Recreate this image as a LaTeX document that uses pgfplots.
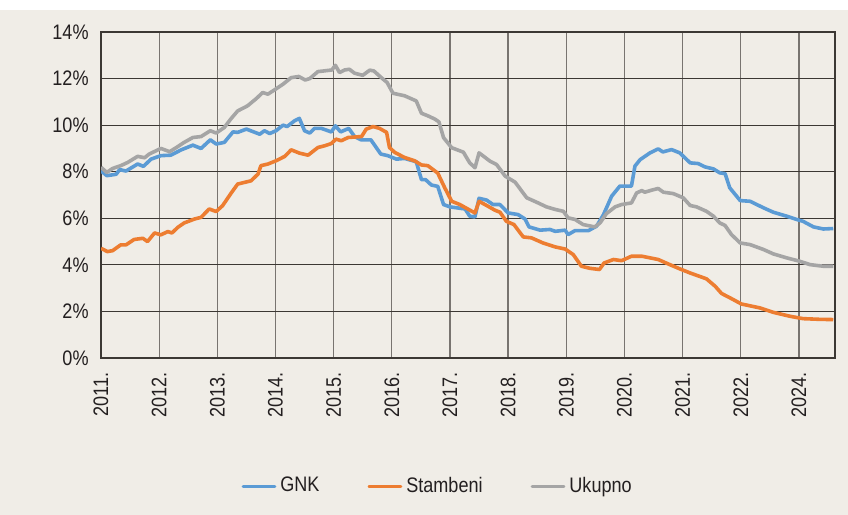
\documentclass[border=0pt]{standalone}
\usepackage{fontspec}
\setmainfont[FakeStretch=0.86]{Liberation Sans}
\usepackage{pgfplots}
\pgfplotsset{compat=1.18}
\definecolor{bg}{RGB}{240,237,231}
\definecolor{txt}{RGB}{35,31,32}
\definecolor{hgrid}{RGB}{60,56,52}
\definecolor{vgrid}{RGB}{120,116,112}
\definecolor{cblue}{RGB}{91,155,213}
\definecolor{corange}{RGB}{237,125,49}
\definecolor{cgray}{RGB}{165,165,165}
\begin{document}
\begin{tikzpicture}
\useasboundingbox (0,0) rectangle (424pt,257.5pt);
\fill[bg] (0,0) rectangle (424pt,252.5pt);
\fill[white] (0,252.5pt) rectangle (424pt,257.5pt);
\begin{axis}[
  scale only axis,
  width=367pt, height=163pt,
  at={(50.5pt,78.5pt)}, anchor=south west,
  xmin=0, xmax=12.62, ymin=0, ymax=14,
  xtick={0,...,12},
  xticklabels={2011.,2012.,2013.,2014.,2015.,2016.,2017.,2018.,2019.,2020.,2021.,2022.,2024.},
  ytick={0,2,...,14},
  yticklabel={\pgfmathprintnumber{\tick}\%},
  /pgf/number format/assume math mode=true,
  major tick length=0pt,
  tick label style={font=\fontsize{10.5}{12}\selectfont, text=txt},
  xticklabel shift=7pt,
  xticklabel style={rotate=90, anchor=east, inner sep=0pt},
  yticklabel style={anchor=east, inner sep=0pt, xshift=-6pt},
  axis background/.style={fill=bg},
  axis line style={draw=hgrid, line width=0.6pt},
  xmajorgrids, ymajorgrids,
  x grid style={draw=vgrid, line width=0.65pt},
  y grid style={draw=hgrid, line width=0.55pt},
  legend columns=3,
  legend style={at={(0.46,-0.393)}, anchor=center, draw=none, fill=none,
    font=\fontsize{10.5}{12}\selectfont, text=txt,
    /tikz/every even column/.append style={column sep=22pt}},
  legend image code/.code={\draw[#1, line width=1.4pt, line cap=round] (0pt,0pt) -- (16pt,0pt);},
  every axis plot/.append style={line width=1.8pt, line join=round},
]
\addplot[cblue] coordinates {
(0,8.04) (0.10,7.83) (0.26,7.89) (0.32,8.09) (0.43,8.03) (0.63,8.33) (0.73,8.23) (0.86,8.54)
(1.03,8.69) (1.20,8.71) (1.38,8.94) (1.58,9.14) (1.72,9.00) (1.88,9.37) (1.98,9.19) (2.12,9.26)
(2.27,9.71) (2.35,9.69) (2.50,9.83) (2.73,9.61) (2.81,9.76) (2.90,9.64) (3.01,9.76) (3.13,10.00)
(3.20,9.94) (3.33,10.19) (3.41,10.29) (3.50,9.76) (3.59,9.66) (3.67,9.86) (3.79,9.86) (3.96,9.71)
(4.03,9.97) (4.12,9.71) (4.26,9.86) (4.36,9.51) (4.47,9.37) (4.64,9.37) (4.81,8.76) (4.93,8.69)
(5.08,8.54) (5.22,8.57) (5.42,8.43) (5.51,7.66) (5.58,7.66) (5.68,7.43) (5.79,7.37) (5.89,6.59)
(6.00,6.49) (6.26,6.40) (6.34,6.09) (6.43,6.06) (6.50,6.86) (6.63,6.78) (6.74,6.59) (6.86,6.59)
(7.00,6.23) (7.17,6.16) (7.29,5.97) (7.36,5.63) (7.55,5.49) (7.72,5.52) (7.81,5.44) (7.98,5.49)
(8.03,5.30) (8.15,5.47) (8.38,5.47) (8.52,5.66) (8.64,6.16) (8.78,6.95) (8.92,7.38) (9.12,7.38)
(9.18,8.24) (9.27,8.52) (9.44,8.81) (9.58,8.98) (9.66,8.85) (9.81,8.95) (9.95,8.81) (10.13,8.38)
(10.27,8.35) (10.38,8.21) (10.53,8.12) (10.64,7.95) (10.73,7.92) (10.81,7.31) (10.99,6.76) (11.16,6.73)
(11.39,6.45) (11.56,6.26) (11.79,6.09) (11.96,5.95) (12.07,5.87) (12.25,5.63) (12.42,5.54) (12.59,5.56)
};
\addlegendentry{GNK}
\addplot[corange] coordinates {
(0,4.71) (0.11,4.57) (0.20,4.61) (0.34,4.86) (0.43,4.86) (0.57,5.09) (0.72,5.14) (0.80,5.00)
(0.92,5.37) (1.03,5.29) (1.15,5.43) (1.22,5.37) (1.32,5.61) (1.43,5.80) (1.61,5.97) (1.72,6.04)
(1.86,6.40) (1.98,6.29) (2.09,6.54) (2.24,7.09) (2.35,7.47) (2.58,7.61) (2.70,7.90) (2.75,8.26)
(2.87,8.33) (3.01,8.47) (3.16,8.66) (3.27,8.94) (3.41,8.80) (3.56,8.71) (3.73,9.04) (3.84,9.11)
(3.96,9.21) (4.04,9.40) (4.13,9.33) (4.25,9.47) (4.48,9.51) (4.56,9.83) (4.68,9.94) (4.79,9.86)
(4.91,9.69) (4.96,9.04) (5.05,8.83) (5.22,8.61) (5.39,8.47) (5.51,8.29) (5.62,8.26) (5.79,7.94)
(5.91,7.31) (6.03,6.73) (6.17,6.59) (6.32,6.38) (6.43,6.23) (6.50,6.73) (6.63,6.55) (6.77,6.35)
(6.86,6.26) (6.97,5.87) (7.10,5.73) (7.26,5.20) (7.40,5.16) (7.60,4.94) (7.81,4.77) (7.98,4.68)
(8.12,4.44) (8.26,3.94) (8.41,3.85) (8.57,3.80) (8.65,4.08) (8.81,4.23) (8.95,4.18) (9.12,4.37)
(9.30,4.37) (9.58,4.23) (9.78,4.01) (9.95,3.83) (10.13,3.65) (10.41,3.40) (10.56,3.08) (10.67,2.77)
(10.84,2.55) (11.01,2.32) (11.33,2.15) (11.56,1.96) (11.85,1.79) (12.07,1.69) (12.36,1.66) (12.59,1.65)
};
\addlegendentry{Stambeni}
\addplot[cgray] coordinates {
(0,8.19) (0.10,7.97) (0.20,8.14) (0.34,8.26) (0.46,8.40) (0.63,8.66) (0.75,8.60) (0.83,8.76)
(1.03,9.00) (1.18,8.86) (1.29,9.03) (1.43,9.26) (1.58,9.47) (1.72,9.51) (1.88,9.76) (1.98,9.66)
(2.12,9.90) (2.24,10.29) (2.35,10.61) (2.52,10.83) (2.67,11.14) (2.78,11.40) (2.87,11.33) (2.98,11.51)
(3.13,11.76) (3.27,12.04) (3.40,12.09) (3.51,11.94) (3.59,12.00) (3.73,12.30) (3.84,12.33) (3.97,12.37)
(4.03,12.57) (4.10,12.26) (4.19,12.37) (4.27,12.40) (4.36,12.23) (4.50,12.14) (4.62,12.36) (4.69,12.33)
(4.82,12.04) (4.92,11.83) (5.02,11.37) (5.22,11.26) (5.42,11.04) (5.51,10.51) (5.62,10.40) (5.74,10.26)
(5.81,10.14) (5.89,9.46) (6.03,9.03) (6.23,8.84) (6.34,8.38) (6.43,8.17) (6.50,8.81) (6.69,8.45)
(6.80,8.31) (6.95,7.81) (7.12,7.55) (7.32,6.88) (7.49,6.69) (7.66,6.49) (7.81,6.38) (7.95,6.30)
(8.03,6.02) (8.15,5.95) (8.29,5.73) (8.49,5.63) (8.58,5.80) (8.69,6.20) (8.84,6.49) (8.95,6.59)
(9.12,6.66) (9.21,7.09) (9.30,7.19) (9.35,7.12) (9.47,7.21) (9.58,7.28) (9.67,7.12) (9.84,7.06)
(10.01,6.88) (10.13,6.55) (10.24,6.49) (10.41,6.30) (10.53,6.09) (10.64,5.80) (10.73,5.69) (10.84,5.30)
(10.99,4.94) (11.16,4.87) (11.39,4.66) (11.56,4.47) (11.79,4.30) (12.02,4.15) (12.19,4.01) (12.42,3.94)
(12.59,3.94)
};
\addlegendentry{Ukupno}
\end{axis}
\end{tikzpicture}
\end{document}
